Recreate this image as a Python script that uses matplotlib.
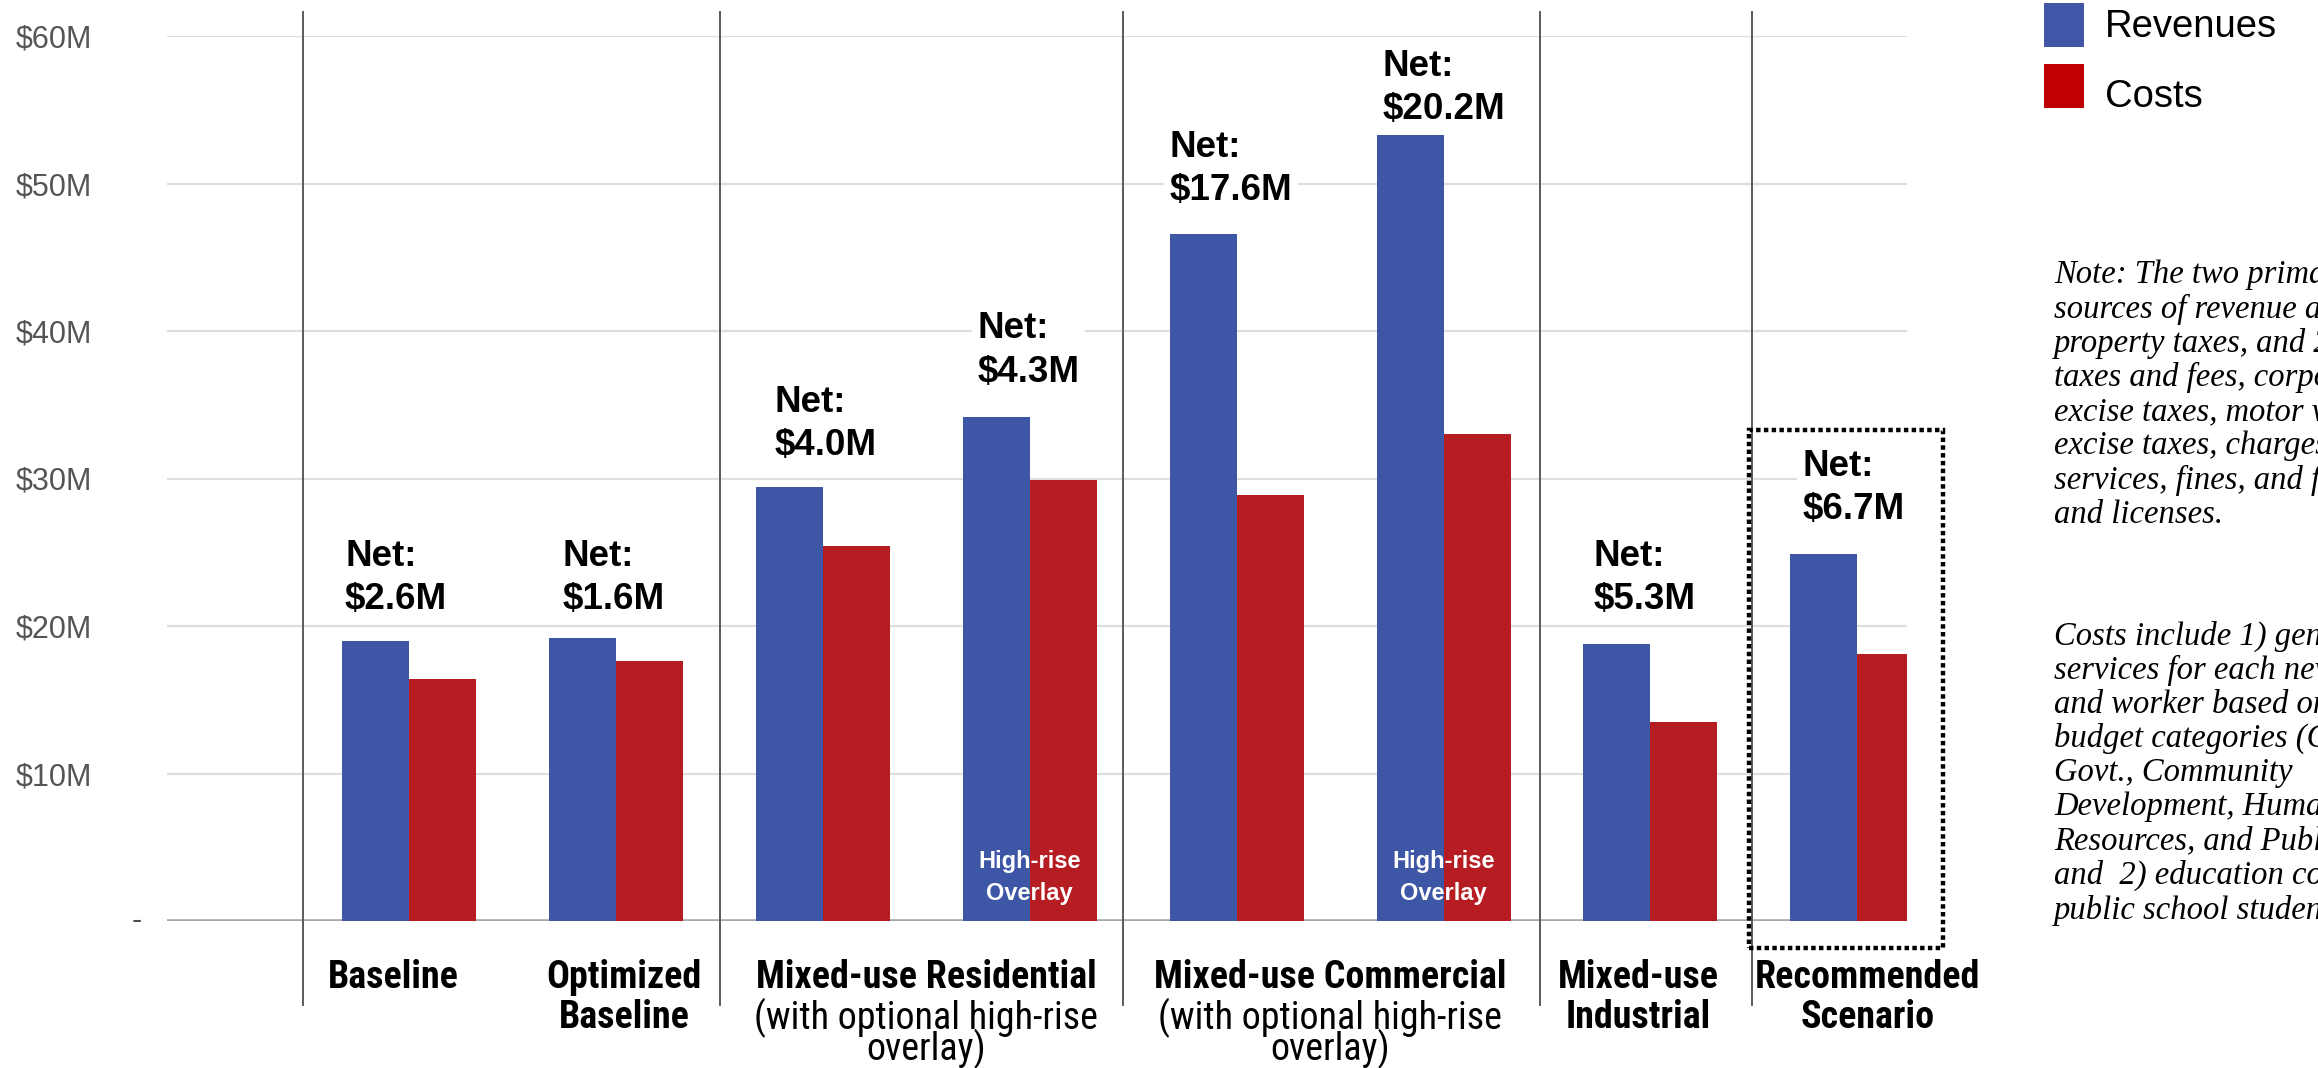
import os
import matplotlib
matplotlib.use("Agg")
import matplotlib.pyplot as plt
from matplotlib.patches import Rectangle
from matplotlib.transforms import blended_transform_factory
from matplotlib import font_manager as fm
import numpy as np

# ---------------- data ----------------
scenarios = ["Baseline", "Optimized Baseline", "Mixed-use Residential",
             "Mixed-use Residential + High-rise", "Mixed-use Commercial",
             "Mixed-use Commercial + High-rise", "Mixed-use Industrial",
             "Recommended Scenario"]
revenues = [19.0, 19.2, 29.4, 34.2, 46.6, 53.3, 18.8, 24.9]   # $M
costs = [16.4, 17.6, 25.4, 29.9, 28.9, 33.0, 13.5, 18.1]      # $M
net_labels = ["$2.6M", "$1.6M", "$4.0M", "$4.3M", "$17.6M", "$20.2M", "$5.3M", "$6.7M"]
high_rise = [False, False, False, True, False, True, False, False]

group_titles = ["Baseline", "Optimized\nBaseline", "Mixed-use Residential",
                "Mixed-use Commercial", "Mixed-use\nIndustrial", "Recommended\nScenario"]
group_subtitles = ["", "", "(with optional high-rise\noverlay)",
                   "(with optional high-rise\noverlay)", "", ""]

ytick_values = [10, 20, 30, 40, 50, 60]
ytick_labels = ["$10M", "$20M", "$30M", "$40M", "$50M", "$60M"]

legend_labels = ["Revenues", "Costs"]

# note text as visible in the (right-cropped) reference
note_para1 = ["Note: The two prima", "sources of revenue a", "property taxes, and 2",
              "taxes and fees, corpo", "excise taxes, motor v",
              "excise taxes, charges", "services, fines, and f", "and licenses."]
note_para2 = ["Costs include 1) gen", "services for each new", "and worker based on",
              "budget categories (G", "Govt., Community", "Development, Huma",
              "Resources, and Publ", "and  2) education co", "public school studen"]

# ---------------- layout / style ----------------
W, H = 2318, 1068
BLUE = "#3D56A6"
RED = "#B51D23"
LEG_BLUE = "#4156A6"
LEG_RED = "#C00000"
BAR_W = 0.324
group_x = [-0.077, 1.04, 2.5, 4.45, 5.94, 7.05]          # label centres (axis units)
separators = [-0.512, 1.502, 3.449, 5.464, 6.493]
net_dx_px = [3, 14, 19, 15, 0, 6, 10, 12]
net_gap_px = [24, 21, 24, 27, 26, 8, 27, 27]
title_baselines_px = [988, 1028]                           # rows from the image top
sub_last_baseline_px = 1060

names = {f.name for f in fm.fontManager.ttflist}
SANS = "Liberation Sans" if "Liberation Sans" in names else "DejaVu Sans"
SERIF = "Liberation Serif" if "Liberation Serif" in names else "DejaVu Serif"
plt.rcParams["font.family"] = [SANS, "DejaVu Sans"]


def find_narrow(bold):
    prefs = ["liberationsansnarrow", "robotocondensed", "opensans_condensed",
             "opensanscondensed", "opensans-condensed", "dejavusanscondensed"]
    found = {}
    for f in fm.fontManager.ttflist:
        b = os.path.basename(f.fname).lower().replace(" ", "")
        if f.style != "normal":
            continue
        w = f.weight if isinstance(f.weight, int) else (700 if "bold" in str(f.weight) else 400)
        isbold = w >= 600
        if isbold != bold:
            continue
        if bold and ("semibold" in b or "extrabold" in b or "black" in b):
            continue
        if not bold and ("light" in b or "thin" in b or "medium" in b):
            continue
        for p in prefs:
            if b.startswith(p):
                found.setdefault(p, f.fname)
    for p in prefs[:-1]:
        if p in found:
            return found[p]
    return None


NARROW_B = find_narrow(True)
NARROW_R = find_narrow(False)
CAT_SIZE = 27.4


def cat_props(bold):
    path = NARROW_B if bold else NARROW_R
    if path:
        return fm.FontProperties(fname=path, size=CAT_SIZE)
    # fallback: regular width family, shrunk to match the reference widths
    return fm.FontProperties(family=SANS, weight="bold" if bold else "normal",
                             size=22.8 if bold else 21.8)


fig = plt.figure(figsize=(W / 100, H / 100), dpi=100)
ax_left, ax_right, ax_bottom, ax_top = 167, 1907, 147, 1032   # pixels (bottom-up)
ax = fig.add_axes([ax_left / W, ax_bottom / H, (ax_right - ax_left) / W,
                   (ax_top - ax_bottom) / H])
ax.set_xlim(-1.17, 7.24)
ax.set_ylim(0, 60)


def ay(px_from_top):
    return (H - px_from_top - ax_bottom) / (ax_top - ax_bottom)


x = np.arange(len(scenarios))
ax.bar(x - BAR_W, revenues, BAR_W, align="edge", color=BLUE, zorder=3, linewidth=0)
ax.bar(x, costs, BAR_W, align="edge", color=RED, zorder=3, linewidth=0)

# grid & axes
ax.set_yticks(ytick_values)
ax.set_yticklabels(ytick_labels, fontsize=22, color="#555555", family=SANS)
ax.tick_params(axis="y", length=0, pad=54)
ax.set_xticks([])
ax.yaxis.grid(True, color="#dedede", linewidth=1.6)
ax.set_axisbelow(True)
for s in ax.spines.values():
    s.set_visible(False)
ax.axhline(0, color="#a8a8a8", linewidth=2.6, zorder=2)
trans_ya = blended_transform_factory(ax.transAxes, ax.transData)
ax.text(-0.0172, 0, "-", transform=trans_ya, ha="center", va="center",
        fontsize=22, color="#4d4d4d")

# separators
trans_xd = blended_transform_factory(ax.transData, ax.transAxes)
for sx in separators:
    ax.plot([sx, sx], [ay(1005), ay(12)], transform=trans_xd, color="#5a5a5a",
            linewidth=1.4, clip_on=False, zorder=4)

# net labels
for i, (rev, lbl) in enumerate(zip(revenues, net_labels)):
    ax.annotate("Net:\n" + lbl, xy=(i - BAR_W, rev), xytext=(net_dx_px[i], net_gap_px[i]),
                textcoords="offset pixels", ha="left", va="bottom", fontsize=26.5,
                fontweight="bold", color="black", linespacing=1.3, zorder=5,
                bbox=dict(boxstyle="square,pad=0.15", facecolor="white", edgecolor="none"))

# high-rise overlay labels
for i, flag in enumerate(high_rise):
    if flag:
        ax.text(i, 2.95, "High-rise\nOverlay", ha="center", va="center", color="white",
                fontsize=17, fontweight="bold", linespacing=1.5, zorder=6)

# category labels
bold_fp = cat_props(True)
reg_fp = cat_props(False)
for gx, title, sub in zip(group_x, group_titles, group_subtitles):
    tlines = title.split("\n")
    for k, txt in enumerate(tlines):
        ax.text(gx, ay(title_baselines_px[k]), txt, transform=trans_xd, ha="center",
                va="baseline", fontproperties=bold_fp, clip_on=False)
    if sub:
        # va="baseline" on multi-line text anchors the last line's baseline
        ax.text(gx, ay(sub_last_baseline_px), sub, transform=trans_xd,
                ha="center", va="baseline", fontproperties=reg_fp, linespacing=0.71,
                clip_on=False)

# dotted highlight box around recommended scenario
box = Rectangle((6.476, -1.83), 7.414 - 6.476, 33.29 + 1.83, fill=False,
                edgecolor="black", linewidth=3.2, linestyle=(0, (1, 0.75)),
                clip_on=False, zorder=7)
ax.add_patch(box)

# legend (manual)
for k, (lab, col) in enumerate(zip(legend_labels, [LEG_BLUE, LEG_RED])):
    top = [3, 64][k]
    fig.patches.append(Rectangle((2044 / W, 1 - (top + 44) / H), 40 / W, 44 / H,
                                 transform=fig.transFigure, facecolor=col,
                                 edgecolor="none"))
    fig.text(2105 / W, 1 - [27, 97][k] / H, lab, ha="left", va="center",
             fontsize=27.5, color="black", family=SANS)

# note text
for j, line in enumerate(note_para1):
    fig.text(2054 / W, 1 - (275 + j * 34.2) / H, line, ha="left", va="center",
             fontsize=23.5, style="italic", family=SERIF, color="black")
for j, line in enumerate(note_para2):
    fig.text(2054 / W, 1 - (636 + j * 34.25) / H, line, ha="left", va="center",
             fontsize=23.5, style="italic", family=SERIF, color="black")

fig.savefig("out.png", dpi=100, facecolor="white")
